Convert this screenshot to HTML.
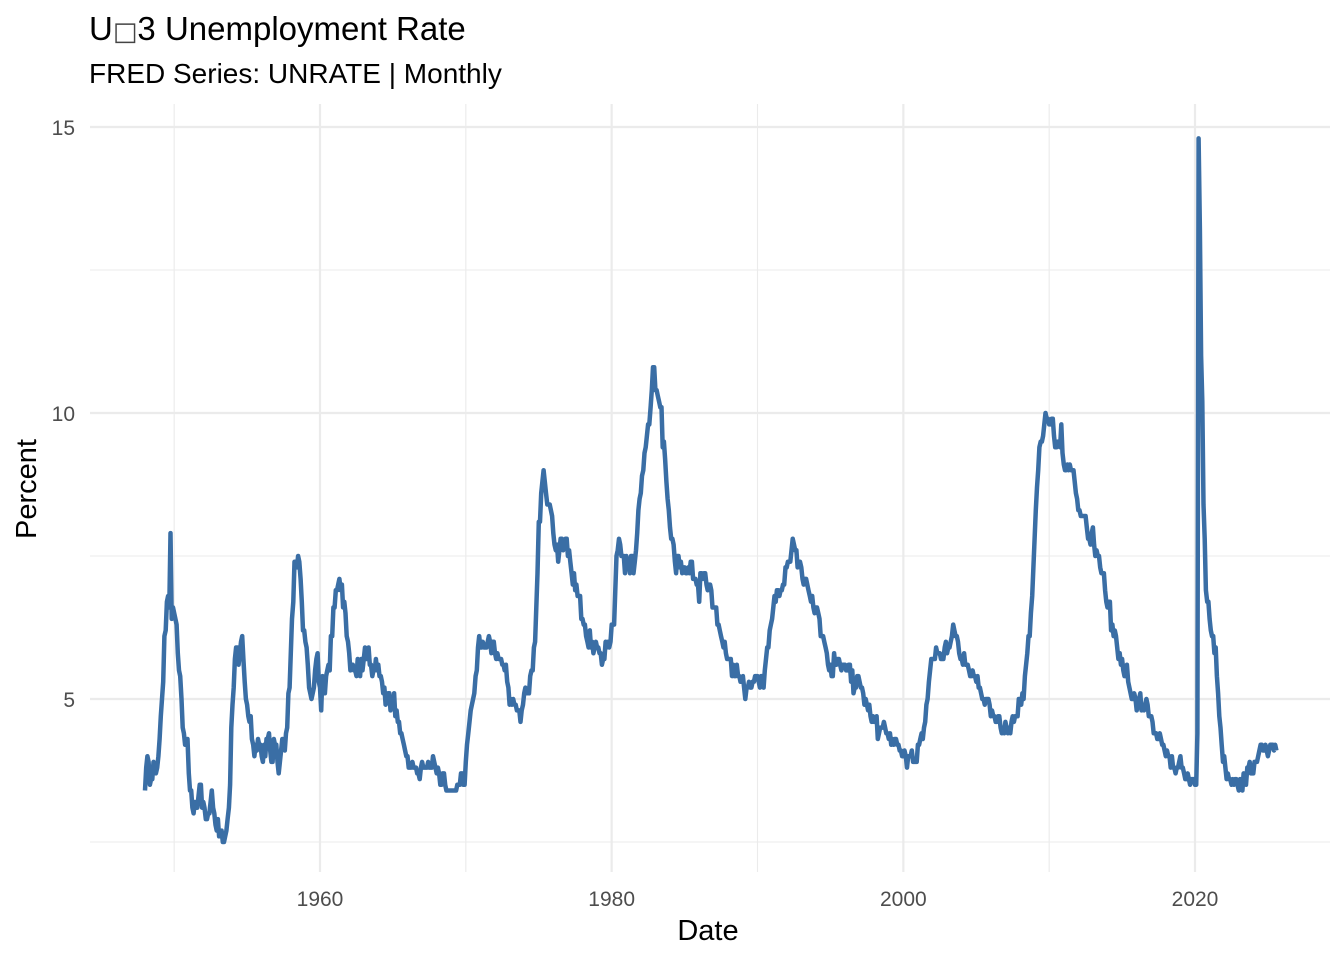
<!DOCTYPE html>
<html><head><meta charset="utf-8"><style>
html,body{margin:0;padding:0;background:#fff;}
svg{display:block;font-family:"Liberation Sans",Arial,sans-serif;}
</style></head><body>
<svg id="chart" width="1344" height="960" viewBox="0 0 1344 960">
<text x="89" y="40" font-size="33" fill="#000">U<tspan font-size="26" fill="#444" font-family="DejaVu Sans">□</tspan>3 Unemployment Rate</text>
<text x="89" y="83" font-size="28" fill="#000">FRED Series: UNRATE | Monthly</text>
<g id="grid"></g>
<g id="yticks"></g>
<g id="xticks"></g>
<path id="line" fill="none" stroke="#3A6EA5" stroke-width="4.5" stroke-linejoin="round"></path>
<text x="708" y="940" font-size="29" text-anchor="middle" fill="#000">Date</text>
<text transform="translate(36,489) rotate(-90)" font-size="29" text-anchor="middle" fill="#000">Percent</text>
</svg>
<script>
const startYear = 1948;
const yTicks = [5, 10, 15];
const yMinor = [2.5, 7.5, 12.5];
const xTicks = [1960, 1980, 2000, 2020];
const xMinor = [1950, 1970, 1990, 2010];
const values = [
3.4,3.8,4.0,3.9,3.5,3.6,3.6,3.9,3.8,3.7,3.8,4.0,
4.3,4.7,5.0,5.3,6.1,6.2,6.7,6.8,6.6,7.9,6.4,6.6,
6.5,6.4,6.3,5.8,5.5,5.4,5.0,4.5,4.4,4.2,4.2,4.3,
3.7,3.4,3.4,3.1,3.0,3.2,3.1,3.1,3.3,3.5,3.5,3.1,
3.2,3.1,2.9,2.9,3.0,3.0,3.2,3.4,3.1,3.0,2.8,2.7,
2.9,2.6,2.6,2.7,2.5,2.5,2.6,2.7,2.9,3.1,3.5,4.5,
4.9,5.2,5.7,5.9,5.9,5.6,5.8,6.0,6.1,5.7,5.3,5.0,
4.9,4.7,4.6,4.7,4.3,4.2,4.0,4.2,4.1,4.3,4.2,4.2,
4.0,3.9,4.2,4.0,4.3,4.3,4.4,4.1,3.9,3.9,4.3,4.2,
4.2,3.9,3.7,3.9,4.1,4.3,4.2,4.1,4.4,4.5,5.1,5.2,
5.8,6.4,6.7,7.4,7.4,7.3,7.5,7.4,7.1,6.7,6.2,6.2,
6.0,5.9,5.6,5.2,5.1,5.0,5.1,5.2,5.5,5.7,5.8,5.3,
5.2,4.8,5.4,5.2,5.1,5.4,5.5,5.6,5.5,6.1,6.1,6.6,
6.6,6.9,6.9,7.0,7.1,6.9,7.0,6.6,6.7,6.5,6.1,6.0,
5.8,5.5,5.6,5.6,5.5,5.5,5.4,5.7,5.6,5.4,5.7,5.5,
5.7,5.9,5.7,5.7,5.9,5.6,5.6,5.4,5.5,5.5,5.7,5.5,
5.6,5.4,5.4,5.3,5.1,5.2,4.9,5.0,5.1,5.1,4.8,5.0,
4.9,5.1,4.7,4.8,4.6,4.6,4.4,4.4,4.3,4.2,4.1,4.0,
4.0,3.8,3.8,3.8,3.9,3.8,3.8,3.8,3.7,3.7,3.6,3.8,
3.9,3.8,3.8,3.8,3.8,3.9,3.8,3.8,3.8,4.0,3.9,3.8,
3.7,3.8,3.7,3.5,3.5,3.7,3.7,3.5,3.4,3.4,3.4,3.4,
3.4,3.4,3.4,3.4,3.4,3.5,3.5,3.5,3.7,3.7,3.5,3.5,
3.9,4.2,4.4,4.6,4.8,4.9,5.0,5.1,5.4,5.5,5.9,6.1,
5.9,5.9,6.0,5.9,5.9,5.9,6.0,6.1,6.0,5.8,6.0,6.0,
5.8,5.7,5.8,5.7,5.7,5.7,5.6,5.6,5.5,5.6,5.3,5.2,
4.9,5.0,4.9,5.0,4.9,4.9,4.8,4.8,4.8,4.6,4.8,4.9,
5.1,5.2,5.1,5.1,5.1,5.4,5.5,5.5,5.9,6.0,6.6,7.2,
8.1,8.1,8.6,8.8,9.0,8.8,8.6,8.4,8.4,8.4,8.3,8.2,
7.9,7.7,7.6,7.7,7.4,7.6,7.8,7.8,7.6,7.7,7.8,7.8,
7.5,7.6,7.4,7.2,7.0,7.2,6.9,7.0,6.8,6.8,6.8,6.4,
6.4,6.3,6.3,6.1,6.0,5.9,6.2,5.9,6.0,5.8,5.9,6.0,
5.9,5.9,5.8,5.8,5.6,5.7,5.7,6.0,5.9,6.0,5.9,6.0,
6.3,6.3,6.3,6.9,7.5,7.6,7.8,7.7,7.5,7.5,7.5,7.2,
7.5,7.4,7.4,7.2,7.5,7.5,7.2,7.4,7.6,7.9,8.3,8.5,
8.6,8.9,9.0,9.3,9.4,9.6,9.8,9.8,10.1,10.4,10.8,10.8,
10.4,10.4,10.3,10.2,10.1,10.1,9.4,9.5,9.2,8.8,8.5,8.3,
8.0,7.8,7.8,7.7,7.4,7.2,7.5,7.5,7.3,7.4,7.2,7.3,
7.3,7.2,7.2,7.3,7.2,7.4,7.4,7.1,7.1,7.1,7.0,7.0,
6.7,7.2,7.2,7.1,7.2,7.2,7.0,6.9,7.0,7.0,6.9,6.6,
6.6,6.6,6.6,6.3,6.3,6.2,6.1,6.0,5.9,6.0,5.8,5.7,
5.7,5.7,5.7,5.4,5.6,5.4,5.4,5.6,5.4,5.4,5.3,5.3,
5.4,5.2,5.0,5.2,5.2,5.3,5.2,5.2,5.3,5.3,5.4,5.4,
5.4,5.3,5.2,5.4,5.4,5.2,5.5,5.7,5.9,5.9,6.2,6.3,
6.4,6.6,6.8,6.7,6.9,6.9,6.8,6.9,6.9,7.0,7.0,7.3,
7.3,7.4,7.4,7.4,7.6,7.8,7.7,7.6,7.6,7.3,7.4,7.4,
7.3,7.1,7.0,7.1,7.1,7.0,6.9,6.8,6.7,6.8,6.6,6.5,
6.6,6.6,6.5,6.4,6.1,6.1,6.1,6.0,5.9,5.8,5.6,5.5,
5.6,5.4,5.4,5.8,5.6,5.6,5.7,5.7,5.6,5.5,5.6,5.6,
5.6,5.5,5.5,5.6,5.6,5.3,5.5,5.1,5.2,5.2,5.4,5.4,
5.3,5.2,5.2,5.1,4.9,5.0,4.9,4.8,4.9,4.7,4.6,4.7,
4.6,4.6,4.7,4.3,4.4,4.5,4.5,4.5,4.6,4.5,4.4,4.4,
4.3,4.4,4.2,4.3,4.2,4.3,4.3,4.2,4.2,4.1,4.1,4.0,
4.0,4.1,4.0,3.8,4.0,4.0,4.0,4.1,3.9,3.9,3.9,3.9,
4.2,4.2,4.3,4.4,4.3,4.5,4.6,4.9,5.0,5.3,5.5,5.7,
5.7,5.7,5.7,5.9,5.8,5.8,5.8,5.7,5.7,5.7,5.9,6.0,
5.8,5.9,5.9,6.0,6.1,6.3,6.2,6.1,6.1,6.0,5.8,5.7,
5.7,5.6,5.8,5.6,5.6,5.6,5.5,5.4,5.4,5.5,5.4,5.4,
5.3,5.4,5.2,5.2,5.1,5.0,5.0,4.9,5.0,5.0,5.0,4.9,
4.7,4.8,4.7,4.7,4.6,4.6,4.7,4.7,4.5,4.4,4.5,4.4,
4.6,4.5,4.4,4.5,4.4,4.6,4.7,4.6,4.7,4.7,4.7,5.0,
5.0,4.9,5.1,5.0,5.4,5.6,5.8,6.1,6.1,6.5,6.8,7.3,
7.8,8.3,8.7,9.0,9.4,9.5,9.5,9.6,9.8,10.0,9.9,9.9,
9.8,9.8,9.9,9.9,9.6,9.4,9.4,9.5,9.5,9.4,9.8,9.3,
9.1,9.0,9.0,9.1,9.0,9.1,9.0,9.0,9.0,8.8,8.6,8.5,
8.3,8.3,8.2,8.2,8.2,8.2,8.2,8.0,7.8,7.8,7.7,7.9,
8.0,7.7,7.5,7.6,7.5,7.5,7.3,7.2,7.2,7.2,6.9,6.7,
6.6,6.7,6.7,6.2,6.3,6.1,6.2,6.1,5.9,5.7,5.8,5.6,
5.7,5.5,5.4,5.4,5.6,5.3,5.2,5.1,5.0,5.0,5.1,5.0,
4.8,4.9,5.0,5.1,4.8,4.9,4.8,4.9,5.0,4.9,4.7,4.7,
4.7,4.6,4.4,4.4,4.4,4.3,4.3,4.4,4.3,4.2,4.2,4.1,
4.0,4.1,4.0,4.0,3.8,4.0,3.8,3.8,3.7,3.8,3.8,3.9,
4.0,3.8,3.8,3.7,3.6,3.6,3.7,3.6,3.5,3.6,3.6,3.6,
3.5,3.5,4.4,14.8,13.2,11.0,10.2,8.4,7.8,6.9,6.7,6.7,
6.4,6.2,6.1,6.1,5.8,5.9,5.4,5.1,4.7,4.5,4.2,3.9,
4.0,3.8,3.6,3.7,3.6,3.6,3.5,3.6,3.5,3.6,3.6,3.5,
3.4,3.6,3.5,3.4,3.7,3.6,3.5,3.8,3.8,3.9,3.7,3.7,
3.7,3.9,3.9,3.9,4.0,4.1,4.2,4.2,4.1,4.1,4.2,4.1,
4.0,4.1,4.2,4.2,4.2,4.1,4.2,4.1
];
const NS = "http://www.w3.org/2000/svg";
const PL = 90, PR = 1330, PT = 104, PB = 872;
function xS(yr){ return 320 + (yr - 1960) * (875/60); }
function yS(v){ return 699 - (v - 5) * 57.2; }
const grid = document.getElementById('grid');
function ln(x1,y1,x2,y2,w,name){
  const l = document.createElementNS(NS,'line');
  l.setAttribute('x1',x1);l.setAttribute('y1',y1);l.setAttribute('x2',x2);l.setAttribute('y2',y2);
  l.setAttribute('stroke','#ebebeb');l.setAttribute('stroke-width',w);
  
  
  grid.appendChild(l);
}
yMinor.forEach(v=>ln(PL,yS(v),PR,yS(v),1.1,'y-minor-gridline'));
xMinor.forEach(v=>ln(xS(v),PT,xS(v),PB,1.1,'x-minor-gridline'));
yTicks.forEach(v=>ln(PL,yS(v),PR,yS(v),2.2,'y-major-gridline'));
xTicks.forEach(v=>ln(xS(v),PT,xS(v),PB,2.2,'x-major-gridline'));
const yt = document.getElementById('yticks');
yTicks.forEach(v=>{
  const t = document.createElementNS(NS,'text');
  t.setAttribute('x',75);t.setAttribute('y',yS(v)+8);
  t.setAttribute('text-anchor','end');t.setAttribute('font-size','21');t.setAttribute('fill','#4d4d4d');
  t.textContent = v;
  
  
  yt.appendChild(t);
});
const xt = document.getElementById('xticks');
xTicks.forEach(v=>{
  const t = document.createElementNS(NS,'text');
  t.setAttribute('x',xS(v));t.setAttribute('y',906);
  t.setAttribute('text-anchor','middle');t.setAttribute('font-size','21');t.setAttribute('fill','#4d4d4d');
  t.textContent = v;
  
  
  xt.appendChild(t);
});
let d = '';
values.forEach((v,i)=>{
  const yr = startYear + i/12;
  d += (i?'L':'M') + xS(yr).toFixed(1) + ',' + yS(v).toFixed(1);
});
document.getElementById('line').setAttribute('d', d);
</script>
</body></html>
